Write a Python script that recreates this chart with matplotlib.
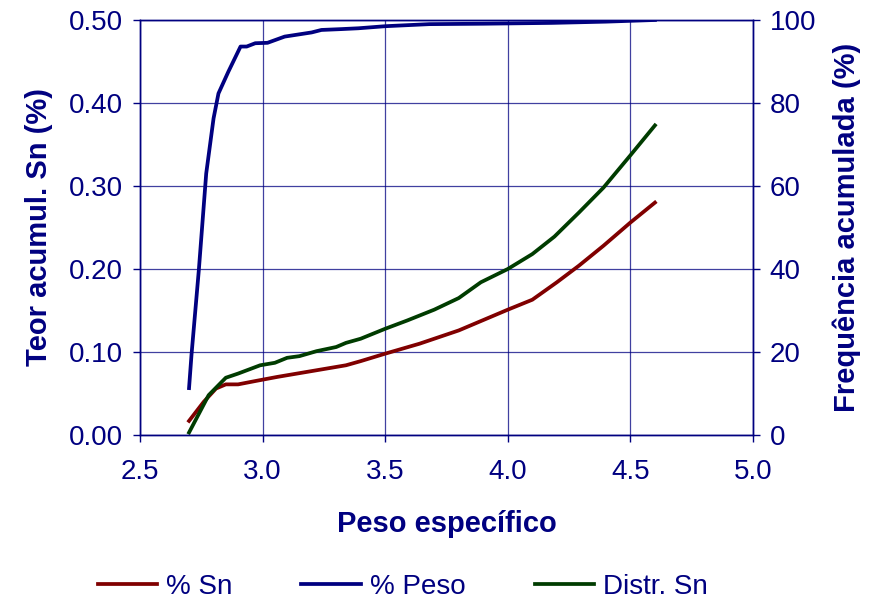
import matplotlib

matplotlib.use("Agg")
import matplotlib.pyplot as plt

plt.rcParams["font.family"] = ["Liberation Sans", "DejaVu Sans"]

NAVY = "#000080"

# % Sn (left axis)
x_sn = [2.70, 2.76, 2.81, 2.85, 2.90, 2.97, 3.06, 3.20, 3.34, 3.40, 3.50,
        3.64, 3.80, 4.00, 4.10, 4.20, 4.29, 4.39, 4.50, 4.60]
sn = [0.017, 0.040, 0.056, 0.061, 0.061, 0.065, 0.070, 0.077, 0.084, 0.089,
      0.098, 0.110, 0.126, 0.151, 0.163, 0.184, 0.204, 0.228, 0.256, 0.280]

# % Peso (right axis)
x_peso = [2.70, 2.71, 2.74, 2.77, 2.80, 2.82, 2.86, 2.91, 2.935, 2.97, 3.02,
          3.09, 3.20, 3.24, 3.32, 3.39, 3.50, 3.68, 3.90, 4.18, 4.40, 4.60]
peso = [11.3, 19.3, 39.8, 63.0, 76.3, 82.3, 87.5, 93.6, 93.6, 94.4, 94.5,
        96.0, 97.0, 97.6, 97.8, 98.0, 98.5, 99.0, 99.1, 99.3, 99.6, 100.0]

# Distr. Sn (left axis)
x_distr = [2.70, 2.78, 2.85, 2.90, 2.99, 3.05, 3.10, 3.15, 3.22, 3.30, 3.34,
           3.40, 3.50, 3.59, 3.70, 3.80, 3.89, 4.00, 4.10, 4.19, 4.29, 4.39,
           4.50, 4.60]
distr = [0.003, 0.048, 0.069, 0.074, 0.084, 0.087, 0.093, 0.095, 0.101, 0.106,
         0.111, 0.116, 0.128, 0.138, 0.151, 0.165, 0.184, 0.200, 0.218, 0.239,
         0.268, 0.298, 0.337, 0.373]

x_ticks = [2.5, 3.0, 3.5, 4.0, 4.5, 5.0]
left_ticks = [0.0, 0.1, 0.2, 0.3, 0.4, 0.5]
right_ticks = [0, 20, 40, 60, 80, 100]

fig = plt.figure(figsize=(8.75, 6.02), dpi=100)
ax = fig.add_axes([0.16, 0.2774, 0.7006, 0.6894])
ax2 = ax.twinx()

ax.set_xlim(2.5, 5.0)
ax.set_ylim(0, 0.5)
ax2.set_ylim(0, 100)
ax.set_xticks(x_ticks)
ax.set_xticklabels([f"{v:.1f}" for v in x_ticks])
ax.set_yticks(left_ticks)
ax.set_yticklabels([f"{v:.2f}" for v in left_ticks])
ax2.set_yticks(right_ticks)

ax.grid(True, color=NAVY, lw=0.9, alpha=0.75)
for a in (ax, ax2):
    for s in a.spines.values():
        s.set_color(NAVY)
        s.set_linewidth(1.0)
    a.tick_params(colors=NAVY, labelcolor=NAVY, labelsize=20, length=5,
                  width=1.0, direction="out")
ax.tick_params(axis="x", pad=12)
ax.tick_params(axis="y", pad=7)
ax2.tick_params(axis="y", pad=7)

l1, = ax.plot(x_sn, sn, color="#800000", lw=2.7, label="% Sn")
l3, = ax.plot(x_distr, distr, color="#003c00", lw=2.7, label="Distr. Sn")
l2, = ax2.plot(x_peso, peso, color=NAVY, lw=2.7, label="% Peso")

ax.set_xlabel("Peso específico", color=NAVY, fontsize=21, fontweight="bold",
              labelpad=18)
ax.set_ylabel("Teor acumul. Sn (%)", color=NAVY, fontsize=21,
              fontweight="bold", labelpad=12)
ax2.set_ylabel("Frequência acumulada (%)", color=NAVY, fontsize=21,
               fontweight="bold", labelpad=12)

leg = fig.legend([l1, l2, l3], ["% Sn", "% Peso", "Distr. Sn"],
                 loc="center", bbox_to_anchor=(0.46, 0.025), ncol=3,
                 frameon=False, fontsize=20, handlelength=2.15,
                 columnspacing=2.5, handletextpad=0.3)
for t in leg.get_texts():
    t.set_color(NAVY)

fig.savefig("out.png", dpi=100)
